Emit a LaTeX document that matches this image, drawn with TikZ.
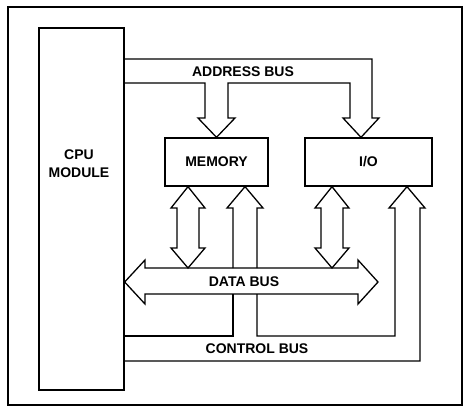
\documentclass[tikz,border=0pt]{standalone}
\usepackage{fontspec}
\setmainfont{Liberation Sans}
\tikzset{
  unit/.style={draw, line width=1.3pt, inner sep=0pt},
  bus/.style={line width=1.3pt, line join=miter},
}
\begin{document}
\begin{tikzpicture}[x=1pt, y=-1pt, font=\bfseries\fontsize{14}{18}\selectfont]
  \useasboundingbox (0,0) rectangle (473,417);
  \draw[line width=1.9pt] (8,7) rectangle (462,405);
  % units
  \node[unit, minimum width=85pt, minimum height=362pt] (cpu) at (81.5,209) {};
  \node[align=center] (cpulbl) at (79,164) {CPU\\MODULE};
  \node[unit, minimum width=103pt, minimum height=48pt] (mem) at (216.5,162) {MEMORY};
  \node[unit, minimum width=127pt, minimum height=48pt] (io) at (368.5,162) {I/O};
  % address bus
  \draw[bus] (cpu.east |- 0,59) -- (372,59) -- (372,118) -- (379,118)
    -- (io.north -| 361,0) -- (343,118) -- (350,118) -- (350,83) -- (228,83)
    -- (228,118) -- (235,118) -- (mem.north) -- (198,118) -- (205,118)
    -- (205,83) -- (cpu.east |- 0,83);
  % data bus
  \draw[bus] (cpu.east |- 0,282) -- (145,260) -- (145,268) -- (358,268) -- (358,260)
    -- (378,282) -- (358,304) -- (358,294) -- (145,294) -- (145,304) -- cycle;
  \draw[bus] (mem.south -| 188,0) -- (205,208) -- (199,208) -- (199,248) -- (205,248)
    -- (188,268) -- (171,248) -- (177,248) -- (177,208) -- (171,208) -- cycle;
  \draw[bus] (io.south -| 332,0) -- (349,208) -- (343,208) -- (343,248) -- (349,248)
    -- (332,268) -- (315,248) -- (321,248) -- (321,208) -- (315,208) -- cycle;
  % control bus
  \draw[bus] (cpu.east |- 0,361) -- (420,361) -- (420,208) -- (425,208)
    -- (io.south -| 407,0) -- (389,208) -- (395,208) -- (395,336) -- (257,336) -- (257,294);
  \draw[bus] (257,268) -- (257,208) -- (263,208) -- (mem.south -| 245,0)
    -- (227,208) -- (233,208) -- (233,268);
  \draw[bus] (233,294) -- (233,336) -- (cpu.east |- 0,336);
  % labels
  \node (abus) at (243,72) {ADDRESS BUS};
  \node (dbus) at (244,282) {DATA BUS};
  \node (cbus) at (257,349) {CONTROL BUS};
\end{tikzpicture}
\end{document}
